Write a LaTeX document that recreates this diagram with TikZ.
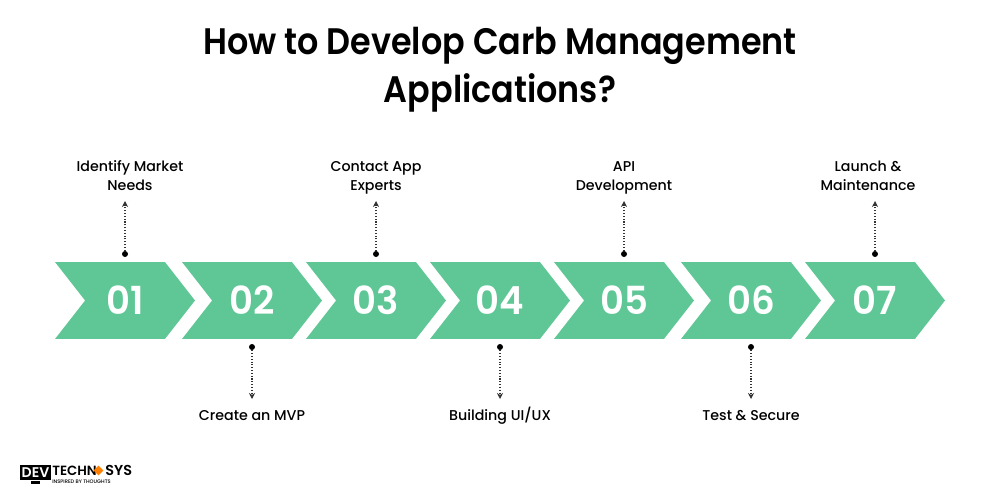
\documentclass[tikz,border=0pt]{standalone}
\usepackage{fontspec}
\setmainfont{Poppins}
\usetikzlibrary{shapes.symbols,shapes.geometric,arrows.meta,positioning,calc}
\definecolor{stepgreen}{HTML}{5FC796}
\newfontfamily\medfont{Poppins Medium}
\newfontfamily\semifont{Poppins SemiBold}
\newfontfamily\titlefont[FakeStretch=0.905]{Poppins SemiBold}
\newfontfamily\digitfont[FakeStretch=0.96]{Poppins SemiBold}

\begin{document}
\begin{tikzpicture}[x=0.02cm,y=-0.02cm,>=stealth,
        step node/.style={signal,signal to=east,signal from=west,signal pointer angle=104,fill=stepgreen,draw=none,minimum width=2.8cm,minimum height=1.54cm,inner sep=0pt,text=white,text height=16.5pt,text depth=0pt,font=\digitfont\fontsize{22}{22}\selectfont},
        label node/.style={align=center,inner sep=0pt,font=\medfont\fontsize{8.1}{10.8}\selectfont},
        dot node/.style={circle,fill=black,inner sep=0pt,minimum size=0.12cm},
        tick line/.style={densely dotted,line width=0.6pt,black!80,-{Stealth[length=0.12cm,width=0.12cm]}}]
    \useasboundingbox (0,0) rectangle (1000,500);
    \fill[white] (0,0) rectangle (1000,500);

    \node[align=center,font=\titlefont\fontsize{21}{27.2}\selectfont] (title) at (500,70) {How to Develop Carb Management\\Applications?};

    \node[step node] (s1) at (125,300.5) {01};
    \node[step node] (s2) at (252,300.5) {02};
    \node[step node] (s3) at (376,300.5) {03};
    \node[step node] (s4) at (500,300.5) {04};
    \node[step node] (s5) at (624,300.5) {05};
    \node[step node] (s6) at (751,300.5) {06};
    \node[step node] (s7) at (875,300.5) {07};

    \node[dot node] (d1) at (125,254) {};
    \node[dot node] (d2) at (252,347) {};
    \node[dot node] (d3) at (376,254) {};
    \node[dot node] (d4) at (500,347) {};
    \node[dot node] (d5) at (624,254) {};
    \node[dot node] (d6) at (751,347) {};
    \node[dot node] (d7) at (875,254) {};

    \node[label node] (l1) at (130,176) {Identify Market\\Needs};
    \node[label node] (l2) at (252,416) {Create an MVP};
    \node[label node] (l3) at (376,178) {Contact App\\Experts};
    \node[label node] (l4) at (500,416) {Building UI/UX};
    \node[label node] (l5) at (624,178) {API\\Development};
    \node[label node] (l6) at (751,416) {Test \& Secure};
    \node[label node] (l7) at (868,176) {Launch \&\\Maintenance};

    \coordinate (e1) at (125,201);
    \coordinate (e2) at (252,399);
    \coordinate (e3) at (376,201);
    \coordinate (e4) at (500,399);
    \coordinate (e5) at (624,201);
    \coordinate (e6) at (751,399);
    \coordinate (e7) at (875,201);
    \foreach \i in {1,...,7}
        \draw[tick line] (d\i) -- (e\i);

    % logo
    \node[fill=black,text=white,inner sep=0pt,minimum width=0.62cm,minimum height=0.31cm,font=\semifont\fontsize{8}{8}\selectfont] (dev) at (35.5,472.5) {DEV};
    \node[fill=black,inner sep=0pt,minimum width=0.2cm,minimum height=0.05cm] (stand) at (35.5,482.5) {};
    \node[inner sep=0pt,anchor=west,font=\semifont\fontsize{7.6}{7.6}\selectfont] (techn) at (52,470.5) {TECHN};
    \node[diamond,fill=orange,inner sep=0pt,minimum size=0.2cm] (hub) at (98.5,470.5) {};
    \node[inner sep=0pt,anchor=west,font=\semifont\fontsize{8.2}{8.2}\selectfont] (sys) at (105,470.5) {SYS};
    \node[inner sep=0pt,anchor=west,font=\medfont\fontsize{2.9}{2.9}\selectfont] (tag) at (52,481.5) {INSPIRED BY THOUGHTS};
\end{tikzpicture}
\end{document}
